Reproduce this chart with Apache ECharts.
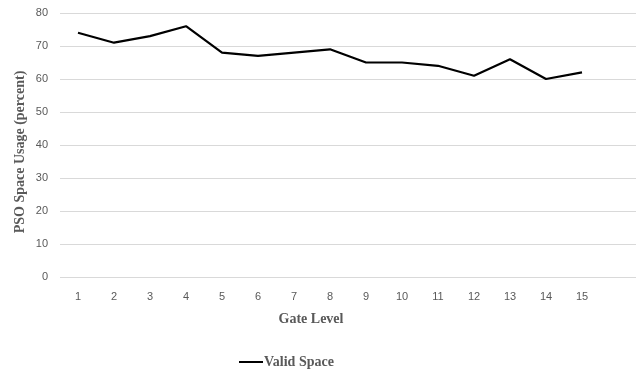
<!DOCTYPE html>
<html><head><meta charset="utf-8">
<script src="https://cdn.jsdelivr.net/npm/echarts@6/dist/echarts.min.js"></script>
<style>html,body{margin:0;padding:0;background:#fff}#c{width:642px;height:371px}</style>
</head><body><div id="c"></div>
<script>
const categories = ['1','2','3','4','5','6','7','8','9','10','11','12','13','14','15',''];
const validSpace = [74,71,73,76,68,67,68,69,65,65,64,61,66,60,62];
const yTicks = [0,10,20,30,40,50,60,70,80];

const chart = echarts.init(document.getElementById('c'));
chart.setOption({
  animation:false,
  grid:{left:60,right:6,top:13,bottom:94,containLabel:false},
  title:[
    {text:'Gate Level',left:306,top:307,textAlign:'center',textStyle:{fontFamily:'Liberation Serif',fontWeight:'bold',fontSize:14,color:'#595959'}},
  ],
  graphic:[
    {type:'text',x:20,y:152,rotation:Math.PI/2,style:{text:'PSO Space Usage (percent)',font:'bold 14px "Liberation Serif"',fill:'#595959',align:'center',verticalAlign:'middle'}}
  ],
  legend:{top:350,left:234,itemWidth:24,itemHeight:2,itemGap:4,icon:'rect',
    data:[{name:'Valid Space',itemStyle:{color:'#000'}}],
    textStyle:{fontFamily:'Liberation Serif',fontWeight:'bold',fontSize:14,color:'#595959',padding:[0,0,0,-4]}},
  xAxis:{type:'category',data:categories,boundaryGap:true,
    axisLine:{show:false},axisTick:{show:false},
    axisLabel:{color:'#595959',fontSize:11,fontFamily:'Liberation Sans',margin:14},
    splitLine:{show:false}},
  yAxis:{type:'value',min:yTicks[0],max:yTicks[yTicks.length-1],interval:10,
    axisLine:{show:false},axisTick:{show:false},
    axisLabel:{color:'#595959',fontSize:11,fontFamily:'Liberation Sans',margin:12},
    splitLine:{lineStyle:{color:'#d9d9d9',width:1}}},
  series:[{name:'Valid Space',type:'line',data:validSpace,symbol:'none',
    lineStyle:{color:'#000',width:2.2},itemStyle:{color:'#000'}}]
});
</script></body></html>
